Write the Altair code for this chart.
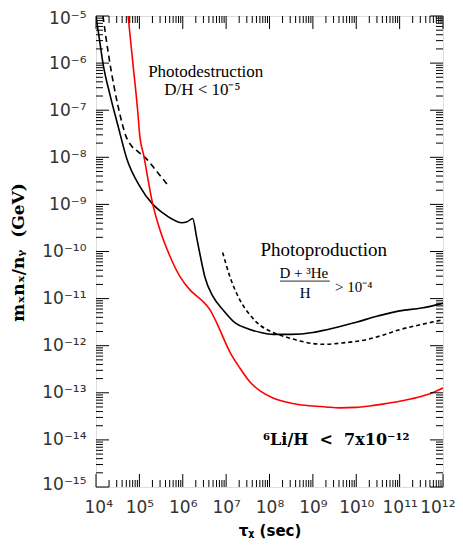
import altair as alt
import pandas as pd
import numpy as np

# ---- data (log10 values) ----
solid_log_tau = [4.0, 4.08, 4.16, 4.33, 4.51, 4.71, 5.0, 5.31, 5.54, 5.75, 5.975, 6.1, 6.228,
                 6.32, 6.41, 6.51, 6.70, 6.93, 7.20, 7.5, 7.8, 8.08, 8.5, 9.0, 9.32, 10.0,
                 10.5, 11.0, 11.5, 12.0]
solid_log_y = [-5.0, -5.5, -6.0, -6.7, -7.34, -8.03, -8.6, -9.0, -9.18, -9.31, -9.39, -9.37, -9.30,
               -9.70, -10.12, -10.54, -10.96, -11.24, -11.51, -11.64, -11.72, -11.76, -11.76, -11.72,
               -11.66, -11.5, -11.37, -11.26, -11.2, -11.1]

dash1_log_tau = [4.16, 4.32, 4.51, 4.62, 4.69, 4.82, 4.97, 5.13, 5.4, 5.68]
dash1_log_y = [-5.0, -6.0, -6.92, -7.34, -7.55, -7.76, -7.88, -8.0, -8.3, -8.62]

dash2_log_tau = [6.92, 7.09, 7.36, 7.51, 7.7, 8.08, 8.4, 8.7, 9.23, 9.7, 10.24, 10.6, 11.0, 11.5, 12.0]
dash2_log_y = [-10.02, -10.54, -11.10, -11.30, -11.5, -11.72, -11.82, -11.9, -11.97, -11.94,
               -11.87, -11.78, -11.66, -11.55, -11.45]

red_log_tau = [4.74, 4.85, 4.96, 5.01, 5.10, 5.31, 5.47, 5.70, 5.94, 6.17, 6.43, 6.63, 6.78,
               7.09, 7.3, 7.55, 7.8, 8.08, 8.5, 8.86, 9.3, 9.62, 10.0, 10.3, 10.61, 11.0, 11.4,
               11.7, 12.0]
red_log_y = [-5.0, -6.0, -7.0, -7.55, -7.96, -9.0, -9.53, -10.09, -10.54, -10.82, -11.03, -11.24,
             -11.51, -12.14, -12.45, -12.77, -12.97, -13.11, -13.22, -13.27, -13.30, -13.32,
             -13.31, -13.28, -13.24, -13.18, -13.10, -13.02, -12.9]

x_major = [1e4, 1e5, 1e6, 1e7, 1e8, 1e9, 1e10, 1e11, 1e12]
x_labels = ['10⁴', '10⁵', '10⁶', '10⁷', '10⁸', '10⁹', '10¹⁰', '10¹¹', '10¹²']
y_major = [1e-15, 1e-14, 1e-13, 1e-12, 1e-11, 1e-10, 1e-9, 1e-8, 1e-7, 1e-6, 1e-5]
y_labels = ['10⁻¹⁵', '10⁻¹⁴', '10⁻¹³', '10⁻¹²', '10⁻¹¹', '10⁻¹⁰', '10⁻⁹', '10⁻⁸', '10⁻⁷',
            '10⁻⁶', '10⁻⁵']
minor_mult = [2, 3, 4, 5, 6, 7, 8, 9]

W, H = 347, 471
XD = [1e4, 1e12]
YD = [1e-15, 1e-5]

xs = alt.Scale(type="log", domain=XD, nice=False)
ys = alt.Scale(type="log", domain=YD, nice=False)


def curve(lt, ly, name):
    return pd.DataFrame({"tau": np.power(10.0, lt), "val": np.power(10.0, ly), "c": name})


def label_expr(majors, labels):
    expr = "''"
    for v, lab in zip(majors, labels):
        e = int(round(np.log10(v)))
        expr = f"round(log(datum.value)/LN10) == {e} ? '{lab}' : ({expr})"
    return expr


solid = curve(solid_log_tau, solid_log_y, "solid")
dash1 = curve(dash1_log_tau, dash1_log_y, "dash1")
dash2 = curve(dash2_log_tau, dash2_log_y, "dash2")
red = curve(red_log_tau, red_log_y, "red")

LABEL_FONT = "DejaVu Sans"
x_axis = alt.Axis(values=x_major, labelExpr=label_expr(x_major, x_labels), ticks=False, grid=False,
                  domain=False, labelFont=LABEL_FONT, labelFontSize=17, labelColor="#333",
                  labelPadding=12, title="τᵪ (sec)", titleFont="DejaVu Sans", titleFontSize=15,
                  titleFontWeight="bold", titleColor="black", titleX=W / 2, titleY=43,
                  titleBaseline="middle", titleAlign="center", labelFlush=True,
                  labelFlushOffset=12, labelOverlap=False)
y_axis = alt.Axis(values=y_major, labelExpr=label_expr(y_major, y_labels), ticks=False, grid=False,
                  domain=False, labelFont=LABEL_FONT, labelFontSize=17, labelColor="#333",
                  labelPadding=10, title="mₓnₓ/nᵧ\u00a0\u00a0(GeV)", titleFont="DejaVu Serif",
                  titleFontSize=17, titleFontWeight="bold", titleColor="black", titleX=-78,
                  titleY=236, titleAngle=270, titleBaseline="middle", titleAlign="center",
                  labelFlush=True, labelFlushOffset=6, labelOverlap=False)

base_solid = alt.Chart(solid).mark_line(color="black", strokeWidth=1.6, interpolate="monotone",
                                        clip=True).encode(
    x=alt.X("tau:Q", scale=xs, axis=x_axis),
    y=alt.Y("val:Q", scale=ys, axis=y_axis),
)


def line_layer(df, color, dash=None):
    kw = dict(color=color, strokeWidth=1.6, interpolate="monotone", clip=True)
    if dash:
        kw["strokeDash"] = dash
    return alt.Chart(df).mark_line(**kw).encode(
        x=alt.X("tau:Q", scale=xs),
        y=alt.Y("val:Q", scale=ys),
    )


d1 = line_layer(dash1, "black", [6, 4])
d2 = line_layer(dash2, "black", [4, 3])
rd = line_layer(red, "#ff0000")

# ---- inward ticks on all four sides ----
x_minor = [m * 10.0 ** n for n in range(4, 12) for m in minor_mult]
y_minor = [m * 10.0 ** n for n in range(-15, -5) for m in minor_mult]

MAJ, MIN = 13, 7


def xticks(vals, length):
    df = pd.DataFrame({"tau": vals})
    bot = alt.Chart(df).mark_rule(color="black", strokeWidth=1).encode(
        x=alt.X("tau:Q", scale=xs), y=alt.value(H), y2=alt.value(H - length))
    top = alt.Chart(df).mark_rule(color="black", strokeWidth=1).encode(
        x=alt.X("tau:Q", scale=xs), y=alt.value(0), y2=alt.value(length))
    return [bot, top]


def yticks(vals, length):
    df = pd.DataFrame({"val": vals})
    left = alt.Chart(df).mark_rule(color="black", strokeWidth=1).encode(
        y=alt.Y("val:Q", scale=ys), x=alt.value(0), x2=alt.value(length))
    right = alt.Chart(df).mark_rule(color="black", strokeWidth=1).encode(
        y=alt.Y("val:Q", scale=ys), x=alt.value(W), x2=alt.value(W - length))
    return [left, right]


tick_layers = (xticks(x_major, MAJ) + xticks(x_minor, MIN) +
               yticks(y_major, MAJ) + yticks(y_minor, MIN))

# ---- annotations ----
def text_layer(lt, ly, txt, size, font="Liberation Serif", weight="normal", align="center"):
    df = pd.DataFrame({"tau": [10.0 ** lt], "val": [10.0 ** ly], "t": [txt]})
    return alt.Chart(df).mark_text(font=font, fontSize=size, fontWeight=weight, align=align,
                                   baseline="middle", color="black").encode(
        x=alt.X("tau:Q", scale=xs),
        y=alt.Y("val:Q", scale=ys),
        text="t:N",
    )


ann = [
    text_layer(6.53, -6.19, "Photodestruction", 17),
    text_layer(6.45, -6.57, "D/H < 10⁻⁵", 17),
    text_layer(9.25, -9.97, "Photoproduction", 19),
    text_layer(8.79, -10.46, "D + ³He", 15),
    text_layer(8.82, -10.88, "H", 15),
    text_layer(9.51, -10.75, "> 10⁻⁴", 15, align="left"),
    text_layer(9.54, -14.0, "⁶Li/H\u00a0\u00a0<\u00a0\u00a07x10⁻¹²", 16, font="DejaVu Serif",
               weight="bold"),
]

frac = pd.DataFrame({"tau": [10 ** 8.24], "b": [10 ** 9.39], "val": [10 ** -10.63]})
frac_line = alt.Chart(frac).mark_rule(color="#555", strokeWidth=1.2).encode(
    x=alt.X("tau:Q", scale=xs), x2="b:Q", y=alt.Y("val:Q", scale=ys))

chart = alt.layer(base_solid, d1, d2, rd, *tick_layers, *ann, frac_line).properties(
    width=W, height=H,
    autosize=alt.AutoSizeParams(type="none"),
    padding={"left": 88, "top": 8, "right": 12, "bottom": 53},
).configure_view(stroke="black", strokeWidth=1.2).configure(background="white")

chart.save("out.html", embed_options={"renderer": "svg", "actions": False})
